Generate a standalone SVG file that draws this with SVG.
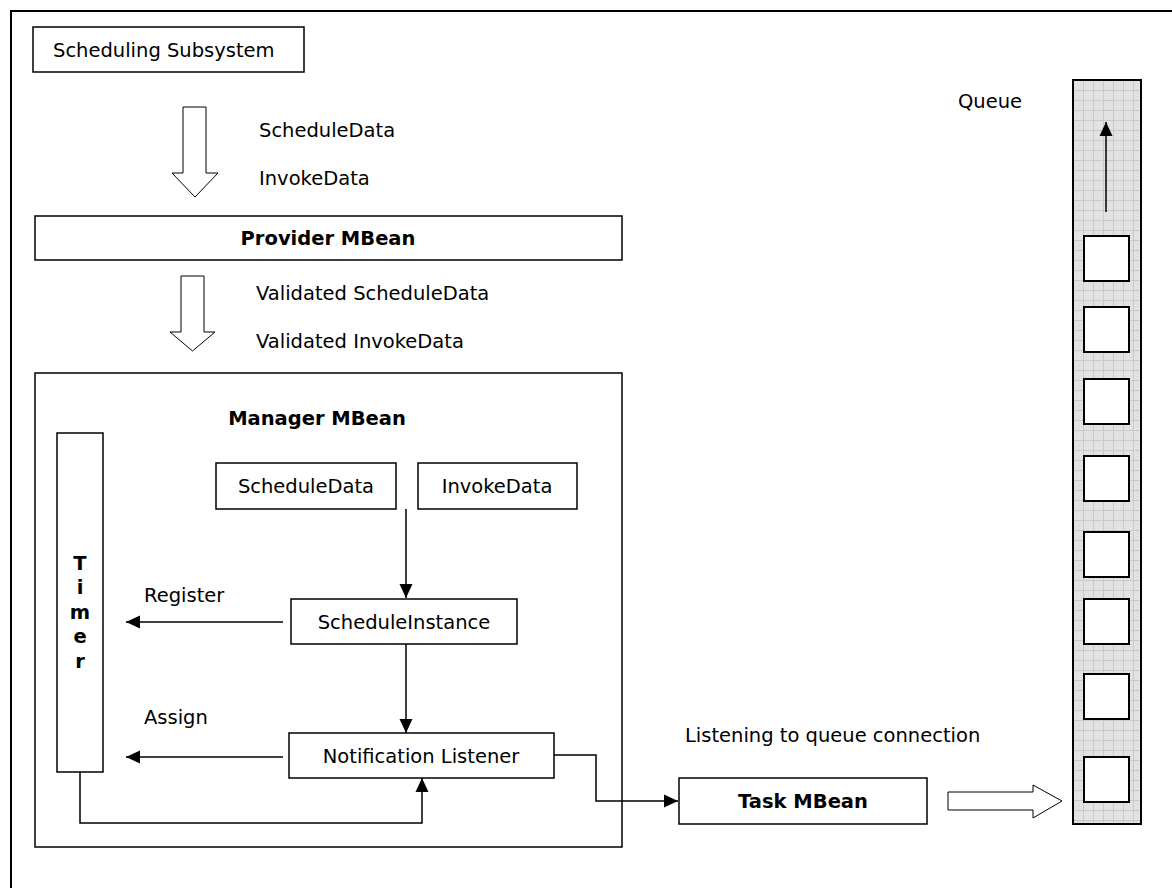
<svg xmlns="http://www.w3.org/2000/svg" width="1172" height="888" viewBox="0 0 1172 888">
<style>
.box{fill:#fff;stroke:#000;stroke-width:1.5}
.t{font-family:"DejaVu Sans",Verdana,sans-serif;font-size:19.5px;fill:#000}
.b{font-weight:bold}
.c{text-anchor:middle}
.ln{fill:none;stroke:#000;stroke-width:1.5}
.fat{fill:#fff;stroke:#000;stroke-width:1}
.sq{fill:#fff;stroke:#000;stroke-width:2}
</style>
<defs>
<marker id="ah" markerUnits="userSpaceOnUse" markerWidth="16" markerHeight="14" refX="15" refY="7" orient="auto">
<path d="M1,0.5 L15,7 L1,13.5 Z" fill="#000"/>
</marker>
<pattern id="grid" patternUnits="userSpaceOnUse" x="1073" y="80" width="10" height="10">
<rect width="10" height="10" fill="#e2e2e2"/>
<path d="M0,0.5 H10 M0.5,0 V10" stroke="#c9c9c9" stroke-width="1"/>
</pattern>
</defs>
<rect id="frame" x="11" y="11" width="1200" height="900" fill="#fff" stroke="#000" stroke-width="2"/>
<g id="scheduling-subsystem">
<rect class="box" x="33" y="27" width="271" height="45"/>
<text class="t" x="53" y="57">Scheduling Subsystem</text>
</g>
<g id="flow1">
<path class="fat" d="M183,107 H206 V173 H218 L195,197 L172,173 H183 Z"/>
<text class="t" x="259" y="137">ScheduleData</text>
<text class="t" x="259" y="185">InvokeData</text>
</g>
<g id="provider-mbean">
<rect class="box" x="35" y="216" width="587" height="44"/>
<text class="t b c" x="328" y="245">Provider MBean</text>
</g>
<g id="flow2">
<path class="fat" d="M181,276 H204 V332 H215 L192.5,351 L170,332 H181 Z"/>
<text class="t" x="256" y="300">Validated ScheduleData</text>
<text class="t" x="256" y="348">Validated InvokeData</text>
</g>
<g id="manager-mbean">
<rect class="box" x="35" y="373" width="587" height="474"/>
<text class="t b c" x="317" y="425">Manager MBean</text>
</g>
<g id="timer">
<rect class="box" x="57" y="433" width="46" height="339"/>
<text class="t b c" x="80" y="570">T</text>
<text class="t b c" x="80" y="594">i</text>
<text class="t b c" x="80" y="619">m</text>
<text class="t b c" x="80" y="643">e</text>
<text class="t b c" x="80" y="668">r</text>
</g>
<g id="schedule-data">
<rect class="box" x="216" y="463" width="180" height="46"/>
<text class="t c" x="306" y="493">ScheduleData</text>
</g>
<g id="invoke-data">
<rect class="box" x="418" y="463" width="159" height="46"/>
<text class="t c" x="497" y="493">InvokeData</text>
</g>
<g id="schedule-instance">
<rect class="box" x="291" y="599" width="226" height="45"/>
<text class="t c" x="404" y="629">ScheduleInstance</text>
</g>
<g id="notification-listener">
<rect class="box" x="289" y="733" width="265" height="45"/>
<text class="t c" x="421" y="763">Notification Listener</text>
</g>
<g id="task-mbean">
<rect class="box" x="679" y="778" width="248" height="46"/>
<text class="t b c" x="803" y="808">Task MBean</text>
</g>
<g id="queue">
<text class="t" x="958" y="108">Queue</text>
<rect x="1073" y="80" width="68" height="744" fill="url(#grid)" stroke="#000" stroke-width="2"/>
<rect class="sq" x="1084" y="236" width="45" height="45"/>
<rect class="sq" x="1084" y="307" width="45" height="45"/>
<rect class="sq" x="1084" y="379" width="45" height="45"/>
<rect class="sq" x="1084" y="456" width="45" height="45"/>
<rect class="sq" x="1084" y="532" width="45" height="45"/>
<rect class="sq" x="1084" y="599" width="45" height="45"/>
<rect class="sq" x="1084" y="674" width="45" height="45"/>
<rect class="sq" x="1084" y="757" width="45" height="45"/>
<path d="M1106,212 V122" class="ln" stroke-width="2" marker-end="url(#ah)"/>
</g>
<g id="labels">
<text class="t" x="144" y="602">Register</text>
<text class="t" x="144" y="724">Assign</text>
<text class="t" x="685" y="742">Listening to queue connection</text>
</g>
<g id="connectors">
<path class="ln" d="M406,509 V598" marker-end="url(#ah)"/>
<path class="ln" d="M406,644 V733" marker-end="url(#ah)"/>
<path class="ln" d="M283,622 H126" marker-end="url(#ah)"/>
<path class="ln" d="M283,757 H126" marker-end="url(#ah)"/>
<path class="ln" d="M80,772 V823 H422 V778" marker-end="url(#ah)"/>
<path class="ln" d="M554,755 H596 V801 H678" marker-end="url(#ah)"/>
<path class="fat" d="M948,792 H1033 V785 L1062,801 L1033,818 V810 H948 Z"/>
</g>
</svg>
